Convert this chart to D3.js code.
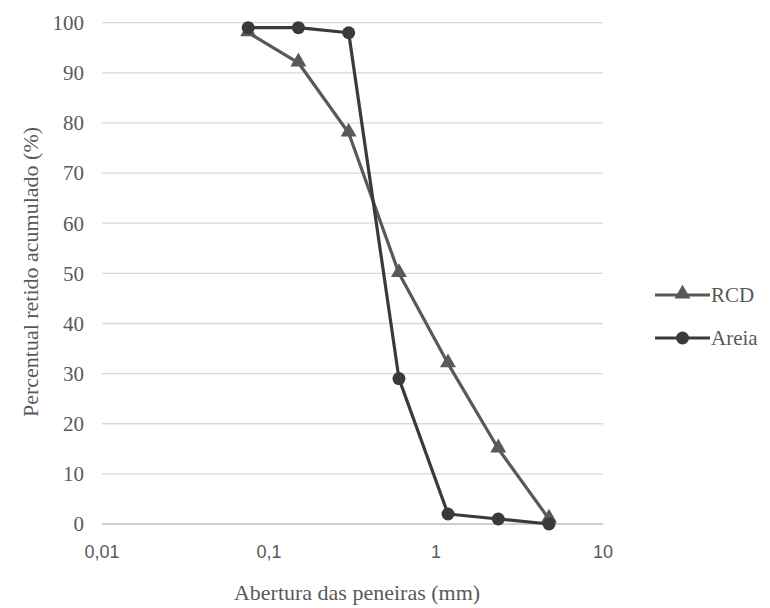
<!DOCTYPE html>
<html>
<head>
<meta charset="utf-8">
<script src="https://cdn.jsdelivr.net/npm/d3@7"></script>
<style>
  body { margin: 0; background: #fff; }
  .serif { font-family: "Liberation Serif", "Times New Roman", Times, Tinos, "DejaVu Serif", "Noto Serif", serif; }
  .sans { font-family: "Liberation Sans", Arial, "DejaVu Sans", sans-serif; }
</style>
</head>
<body>
<script>
(function(){

    //chart data
    var sieves = [0.075, 0.15, 0.3, 0.6, 1.18, 2.36, 4.75]; //abertura (mm)
    var rcdValues = [98, 92, 78, 50, 32, 15, 1];
    var areiaValues = [99, 99, 98, 29, 2, 1, 0];
    var xTicks = [0.01, 0.1, 1, 10];
    var xTickLabels = ["0,01", "0,1", "1", "10"];
    var yTicks = [0, 10, 20, 30, 40, 50, 60, 70, 80, 90, 100];
    var seriesNames = ["RCD", "Areia"];

    var textColor = "#595959";

    var width = 770,
        height = 608;

    var svg = d3.select("body")
        .append("svg")
        .attr("width", width)
        .attr("height", height);

    var x = d3.scaleLog()
        .domain([0.01, 10])
        .range([102, 603]);

    var y = d3.scaleLinear()
        .domain([0, 100])
        .range([524, 22.7]);

    //horizontal gridlines
    svg.selectAll(".grid")
        .data(yTicks.filter(function(d){ return d > 0; }))
        .enter()
        .append("line")
        .attr("class", "grid")
        .attr("x1", x(0.01))
        .attr("x2", x(10))
        .attr("y1", function(d){ return y(d); })
        .attr("y2", function(d){ return y(d); })
        .attr("stroke", "#d9d9d9")
        .attr("stroke-width", 1.3);

    //x axis baseline
    svg.append("line")
        .attr("x1", x(0.01))
        .attr("x2", x(10))
        .attr("y1", y(0))
        .attr("y2", y(0))
        .attr("stroke", "#bfbfbf")
        .attr("stroke-width", 1.3);

    //y tick labels
    svg.selectAll(".ylab")
        .data(yTicks)
        .enter()
        .append("text")
        .attr("class", "ylab serif")
        .attr("x", 84)
        .attr("y", function(d){ return y(d); })
        .attr("dy", "0.35em")
        .attr("text-anchor", "end")
        .attr("font-size", "21px")
        .attr("fill", textColor)
        .text(function(d){ return d; });

    //x tick labels
    svg.selectAll(".xlab")
        .data(xTicks)
        .enter()
        .append("text")
        .attr("class", "xlab sans")
        .attr("x", function(d){ return x(d); })
        .attr("y", 558)
        .attr("text-anchor", "middle")
        .attr("font-size", "18px")
        .attr("fill", textColor)
        .text(function(d, i){ return xTickLabels[i]; });

    //axis titles
    svg.append("text")
        .attr("class", "serif")
        .attr("x", 357)
        .attr("y", 600)
        .attr("text-anchor", "middle")
        .attr("font-size", "22px")
        .attr("fill", textColor)
        .text("Abertura das peneiras (mm)");

    svg.append("text")
        .attr("class", "serif")
        .attr("transform", "translate(38,272) rotate(-90)")
        .attr("text-anchor", "middle")
        .attr("font-size", "22px")
        .attr("fill", textColor)
        .text("Percentual retido acumulado (%)");

    var line = d3.line()
        .x(function(d){ return x(d[0]); })
        .y(function(d){ return y(d[1]); });

    var rcdData = sieves.map(function(s, i){ return [s, rcdValues[i]]; });
    var areiaData = sieves.map(function(s, i){ return [s, areiaValues[i]]; });

    var triangle = d3.symbol().type(d3.symbolTriangle).size(110);

    //RCD series
    svg.append("path")
        .datum(rcdData)
        .attr("d", line)
        .attr("fill", "none")
        .attr("stroke", "#595959")
        .attr("stroke-width", 3.2)
        .attr("stroke-linejoin", "round");

    svg.selectAll(".rcd")
        .data(rcdData)
        .enter()
        .append("path")
        .attr("class", "rcd")
        .attr("d", triangle)
        .attr("transform", function(d){ return "translate(" + x(d[0]) + "," + (y(d[1]) - 1) + ")"; })
        .attr("fill", "#595959");

    //Areia series
    svg.append("path")
        .datum(areiaData)
        .attr("d", line)
        .attr("fill", "none")
        .attr("stroke", "#3a3a3a")
        .attr("stroke-width", 3.2)
        .attr("stroke-linejoin", "round");

    svg.selectAll(".areia")
        .data(areiaData)
        .enter()
        .append("circle")
        .attr("class", "areia")
        .attr("cx", function(d){ return x(d[0]); })
        .attr("cy", function(d){ return y(d[1]); })
        .attr("r", 6.5)
        .attr("fill", "#3a3a3a");

    //legend
    var legend = svg.selectAll(".legend")
        .data(seriesNames)
        .enter()
        .append("g")
        .attr("class", "legend")
        .attr("transform", function(d, i){ return "translate(655," + (295 + i * 43) + ")"; });

    legend.append("line")
        .attr("x1", 0)
        .attr("x2", 55)
        .attr("stroke", function(d, i){ return i === 0 ? "#595959" : "#3a3a3a"; })
        .attr("stroke-width", 3.2);

    legend.each(function(d, i){
        var g = d3.select(this);
        if (i === 0){
            g.append("path")
                .attr("d", triangle)
                .attr("transform", "translate(27.5,-1)")
                .attr("fill", "#595959");
        } else {
            g.append("circle")
                .attr("cx", 27.5)
                .attr("r", 6.5)
                .attr("fill", "#3a3a3a");
        }
    });

    legend.append("text")
        .attr("class", "serif")
        .attr("x", 56)
        .attr("dy", "0.35em")
        .attr("font-size", "21px")
        .attr("fill", textColor)
        .text(function(d){ return d; });

})();
</script>
</body>
</html>
